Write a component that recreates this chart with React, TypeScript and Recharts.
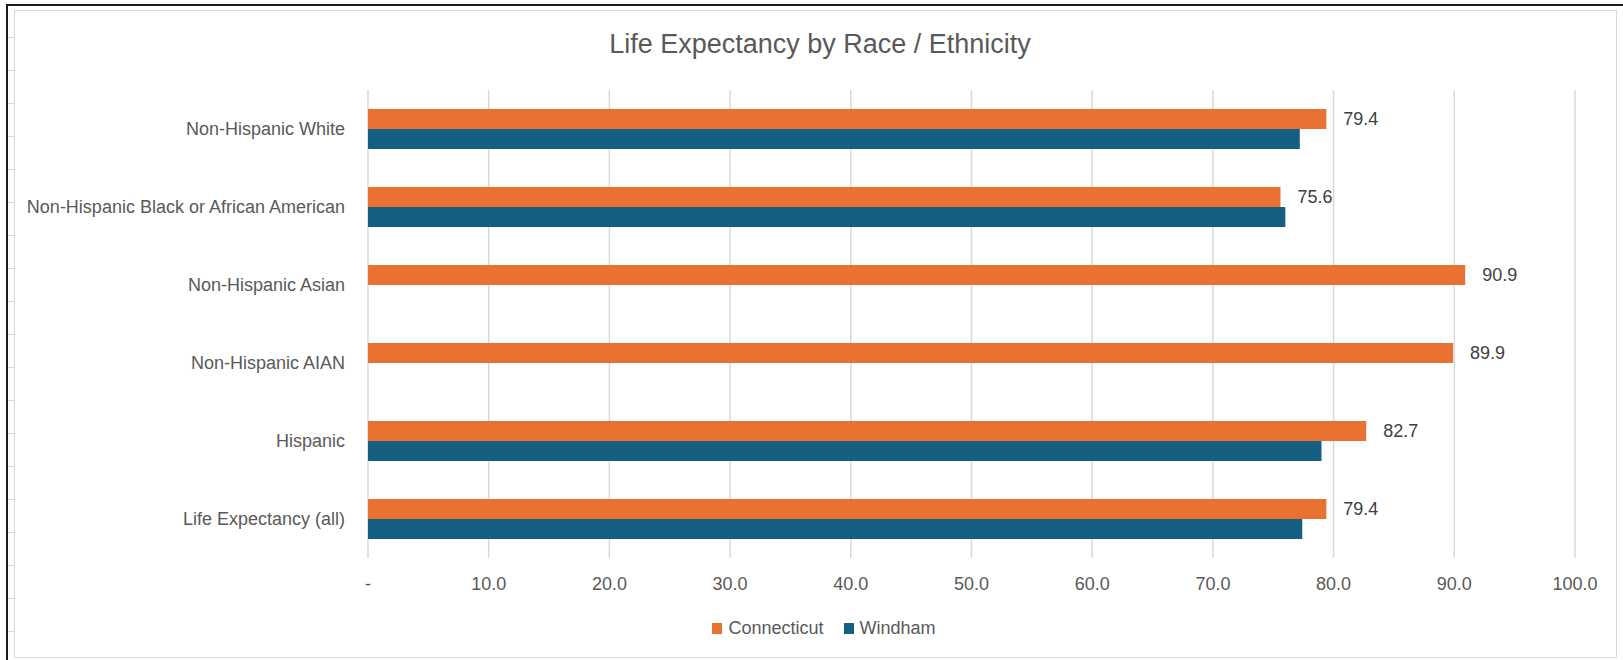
import React from 'react';
import { BarChart, Bar, XAxis, YAxis, CartesianGrid, Legend, LabelList } from 'recharts';

const categories = [
  'Non-Hispanic White',
  'Non-Hispanic Black or African American',
  'Non-Hispanic Asian',
  'Non-Hispanic AIAN',
  'Hispanic',
  'Life Expectancy (all)',
];
const connecticut = [79.4, 75.6, 90.9, 89.9, 82.7, 79.4];
const windham: (number | null)[] = [77.2, 76.0, null, null, 79.0, 77.4];
const xTicks = [0, 10, 20, 30, 40, 50, 60, 70, 80, 90, 100];

const ORANGE = '#E97132';
const BLUE = '#156082';
const FONT = '"Liberation Sans", Arial, sans-serif';

const data = categories.map((name, i) => ({
  name,
  Connecticut: connecticut[i],
  Windham: windham[i],
}));

const fmtTick = (v: number) => (v === 0 ? '-' : v.toFixed(1));

const LegendContent = () => (
  <div style={{ display: 'flex', justifyContent: 'center', alignItems: 'center', height: 20, fontFamily: FONT, fontSize: 18, color: '#595959' }}>
    {[['Connecticut', ORANGE], ['Windham', BLUE]].map(([label, color], i) => (
      <div key={label} style={{ display: 'flex', alignItems: 'center', marginLeft: i ? 20 : 0 }}>
        <span style={{ width: 10, height: 11, background: color, marginRight: 6, display: 'inline-block' }} />
        <span>{label}</span>
      </div>
    ))}
  </div>
);

export default function App() {
  return (
    <div style={{ position: 'absolute', left: 0, top: 0, width: 1623, height: 660, background: '#fff', overflow: 'hidden' }}>
      {/* spreadsheet frame behind the chart */}
      <div style={{ position: 'absolute', left: 7, top: 4, right: 0, height: 2, background: '#1b1b1b' }} />
      <div style={{ position: 'absolute', left: 6, top: 4, width: 2, bottom: 0, background: '#1b1b1b' }} />
      <div
        style={{
          position: 'absolute', left: 8, top: 6, width: 6, bottom: 0,
          backgroundImage: 'repeating-linear-gradient(to bottom, transparent 0px, transparent 32px, #d9d9d9 32px, #d9d9d9 33px)',
          backgroundPosition: '0 -1px',
        }}
      />
      <div style={{ position: 'absolute', left: 14, top: 10, width: 1603, height: 648, border: '1px solid #d9d9d9', boxSizing: 'border-box' }} />
      <div
        style={{
          position: 'absolute', left: 0, top: 29, width: 1640, textAlign: 'center',
          fontFamily: FONT, fontSize: 27, color: '#595959',
        }}
      >
        Life Expectancy by Race / Ethnicity
      </div>
      <div style={{ position: 'absolute', left: 0, top: 0 }}>
        <BarChart
          width={1623}
          height={660}
          data={data}
          layout="vertical"
          margin={{ top: 90, right: 48, bottom: 22, left: 0 }}
          barGap={0}
          barSize={20}
        >
          <CartesianGrid horizontal={false} stroke="#d9d9d9" strokeWidth={1.5} />
          <XAxis
            type="number"
            domain={[0, 100]}
            ticks={xTicks}
            tickFormatter={fmtTick}
            axisLine={false}
            tickLine={false}
            tickMargin={13}
            height={60}
            tick={{ fill: '#595959', fontSize: 18, fontFamily: FONT }}
          />
          <YAxis
            type="category"
            dataKey="name"
            width={368}
            axisLine={false}
            tickLine={false}
            tickMargin={17}
            tick={{ fill: '#595959', fontSize: 18, fontFamily: FONT }}
          />
          <Legend
            verticalAlign="bottom"
            content={<LegendContent />}
            wrapperStyle={{ left: 100, width: 1448 }}
          />
          <Bar dataKey="Connecticut" fill={ORANGE} isAnimationActive={false}>
            <LabelList
              dataKey="Connecticut"
              position="right"
              offset={17}
              formatter={(v: any) => Number(v).toFixed(1)}
              style={{ fill: '#404040', fontSize: 18, fontFamily: FONT }}
            />
          </Bar>
          <Bar dataKey="Windham" fill={BLUE} isAnimationActive={false} />
        </BarChart>
      </div>
    </div>
  );
}
